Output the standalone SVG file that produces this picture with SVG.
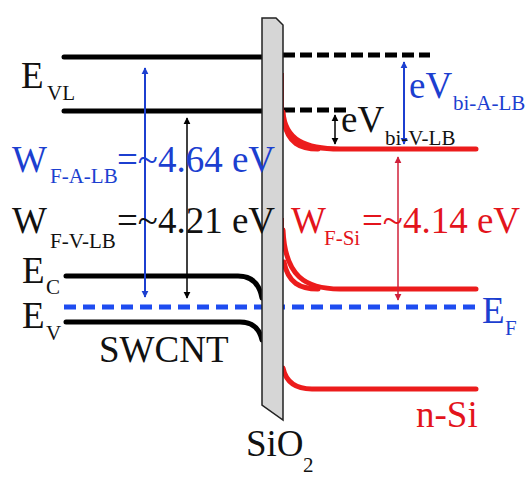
<svg xmlns="http://www.w3.org/2000/svg" width="530" height="477" viewBox="0 0 530 477">
<style>
.big{font-size:37px;}
.sub{font-size:21px;}
.blk{fill:#111;}
.blu{fill:#1c3fd0;}
.red{fill:#e3141c;}
.band{fill:none;stroke:#000;stroke-width:5;stroke-linecap:round;}
.dash{fill:none;stroke:#000;stroke-width:5;stroke-dasharray:12 5;}
.rband{fill:none;stroke:#ec1c1c;stroke-width:5;stroke-linecap:round;}
.rthin{fill:none;stroke:#ec1c1c;stroke-width:2;}
.ef{fill:none;stroke:#1e4cf0;stroke-width:5;stroke-dasharray:12 7;}
</style>
<defs>
<marker id="ab" viewBox="0 0 10 10" refX="9" refY="5" markerWidth="7" markerHeight="11" markerUnits="userSpaceOnUse" orient="auto-start-reverse"><path d="M0,0 L10,5 L0,10 z" fill="#1c3fd0"/></marker>
<marker id="ak" viewBox="0 0 10 10" refX="9" refY="5" markerWidth="7" markerHeight="11" markerUnits="userSpaceOnUse" orient="auto-start-reverse"><path d="M0,0 L10,5 L0,10 z" fill="#000"/></marker>
<marker id="ar" viewBox="0 0 10 10" refX="9" refY="5" markerWidth="7" markerHeight="11" markerUnits="userSpaceOnUse" orient="auto-start-reverse"><path d="M0,0 L10,5 L0,10 z" fill="#d0203a"/></marker>
</defs>

<g id="swcnt">
<line class="band" x1="64" y1="57" x2="262" y2="57"/>
<line class="band" x1="64" y1="111" x2="262" y2="111"/>
<path class="band" d="M66,276 H238 Q258,276 262,298"/>
<path class="band" d="M66,322 H240 Q258,322 262,340"/>
</g>

<g id="fermi">
<line class="ef" x1="64" y1="307" x2="478" y2="307"/>
</g>

<g id="nsi">
<line class="dash" x1="283" y1="55" x2="430" y2="55"/>
<line class="dash" x1="283" y1="110" x2="350" y2="110"/>
<path class="rthin" d="M283,73 V113"/>
<path class="rband" d="M283,112 C285,140 305,149 340,149 H476"/>
<path class="rband" d="M284,122 C288,143 300,149 318,149"/>
<path class="rthin" d="M283,218 V232"/>
<path class="rband" d="M283,230 C285,276 305,289 340,289 H476"/>
<path class="rband" d="M284,262 C288,283 300,289 318,289"/>
<path class="rband" d="M283,368 C286,382 295,389 312,389 H476"/>
</g>

<g id="sio2">
<polygon points="262,18 276,18 283,25 283,420 262,405" fill="#d6d6d6" stroke="#222" stroke-width="1.5"/>
</g>

<g id="connectors">
<line x1="145" y1="68" x2="145" y2="297" stroke="#1c3fd0" stroke-width="2" marker-start="url(#ab)" marker-end="url(#ab)"/>
<line x1="187" y1="118" x2="187" y2="298" stroke="#000" stroke-width="1.5" marker-start="url(#ak)" marker-end="url(#ak)"/>
<line x1="404" y1="62" x2="404" y2="144" stroke="#1c3fd0" stroke-width="2" marker-start="url(#ab)" marker-end="url(#ab)"/>
<line x1="335" y1="115" x2="335" y2="144" stroke="#000" stroke-width="1.5" marker-start="url(#ak)" marker-end="url(#ak)"/>
<line x1="398" y1="157" x2="398" y2="300" stroke="#d0203a" stroke-width="1.5" marker-start="url(#ar)" marker-end="url(#ar)"/>
</g>

<g id="labels" font-family="'Liberation Serif', 'DejaVu Serif', serif">
<text class="big blk" x="21" y="88">E<tspan class="sub" x="47" y="100">VL</tspan></text>
<text class="big blu" x="12" y="172">W<tspan class="sub" x="50" y="183">F-A-LB</tspan><tspan x="117" y="172">=~4.64 eV</tspan></text>
<text class="big blk" x="12" y="233">W<tspan class="sub" x="50" y="248">F-V-LB</tspan><tspan x="117" y="233">=~4.21 eV</tspan></text>
<text class="big blk" x="22" y="283">E<tspan class="sub" x="46" y="294">C</tspan></text>
<text class="big blk" x="22" y="328">E<tspan class="sub" x="46" y="340">V</tspan></text>
<text class="big blk" x="99" y="362">SWCNT</text>
<text class="big blk" x="246" y="456">SiO<tspan class="sub" x="303" y="472">2</tspan></text>
<text class="big blu" x="409" y="98">eV<tspan class="sub" x="453" y="110">bi-A-LB</tspan></text>
<text class="big blk" x="341" y="132">eV<tspan class="sub" x="385" y="145">bi-V-LB</tspan></text>
<text class="big red" x="291" y="233">W<tspan class="sub" x="324" y="245">F-Si</tspan><tspan x="362" y="233">=~4.14 eV</tspan></text>
<text class="big blu" x="482" y="323">E<tspan class="sub" x="505" y="335">F</tspan></text>
<text class="big red" x="416" y="427">n-Si</text>
</g>
</svg>
